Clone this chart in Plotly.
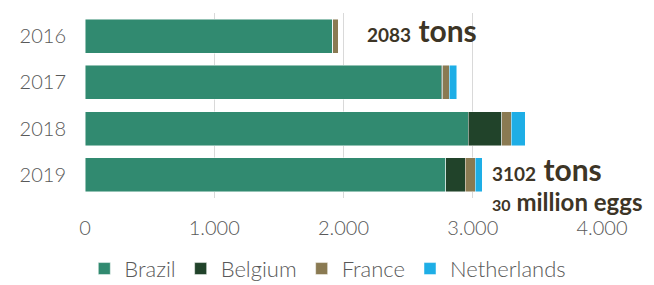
import plotly.graph_objects as go

years = ["2016", "2017", "2018", "2019"]
brazil = [1918, 2755, 2967, 2792]
belgium = [0, 14, 258, 150]
france = [40, 51, 71, 77]
netherlands = [0, 57, 111, 56]
tick_vals = [0, 1000, 2000, 3000, 4000]
tick_text = ["0", "1.000", "2.000", "3.000", "4.000"]
ann_numbers = ["2083", "3102", "30"]
ann_units = ["tons", "tons", "million eggs"]

series = [
    ("Brazil", brazil, "#318a70"),
    ("Belgium", belgium, "#21432a"),
    ("France", france, "#8a7a52"),
    ("Netherlands", netherlands, "#1eaee6"),
]

FONT = "Lato"
fig = go.Figure()
for name, vals, col in series:
    fig.add_trace(go.Bar(
        y=years, x=vals, name=name, orientation="h",
        marker=dict(color=col, line=dict(color="rgba(255,255,255,0.6)", width=0.8)),
    ))

# page-pixel positions (plot area spans x 85..602, y 13..198 on the page)
ann_col = "#3d3526"
anns = [
    dict(x=365, y=30, num=ann_numbers[0], unit=ann_units[0], big=30, small=19),
    dict(x=490, y=169, num=ann_numbers[1], unit=ann_units[1], big=30, small=19),
    dict(x=490, y=201, num=ann_numbers[2], unit=ann_units[2], big=24, small=16),
]
for a in anns:
    fig.add_annotation(
        xref="paper", yref="paper",
        x=(a["x"] - 85) / (602 - 85), y=1 - (a["y"] - 13) / 185,
        xanchor="left", yanchor="middle", showarrow=False,
        text=f"<b><span style='font-size:{a['small']}px'>{a['num']}</span> {a['unit']}</b>",
        font=dict(family=FONT, size=a["big"], color=ann_col),
    )

tick_font = dict(family=FONT, size=20, color="#595959", weight=300)
fig.update_layout(
    width=654, height=285,
    margin=dict(l=77, r=60, t=5, b=95, autoexpand=False),
    barmode="stack", bargap=0.27,
    plot_bgcolor="white", paper_bgcolor="white",
    font=dict(family=FONT, color="#595959", size=18),
    legend=dict(orientation="h", x=0.489, xanchor="center", y=0.085, yanchor="middle",
                yref="container", xref="container", itemwidth=30,
                font=dict(family=FONT, size=22, color="#595959", weight=300),
                traceorder="normal"),
    xaxis=dict(range=[0, 4000], tickvals=tick_vals, ticktext=tick_text,
               showgrid=True, gridcolor="#d9d9d9", gridwidth=1, zeroline=False,
               showline=False, ticks="outside", ticklen=12, tickcolor="rgba(0,0,0,0)",
               tickfont=tick_font, fixedrange=True, automargin=False),
    yaxis=dict(autorange="reversed", showgrid=False, showline=False,
               ticks="outside", ticklen=14, tickcolor="rgba(0,0,0,0)",
               tickfont=tick_font, automargin=False),
    showlegend=True,
)
fig.write_html("out.html")
